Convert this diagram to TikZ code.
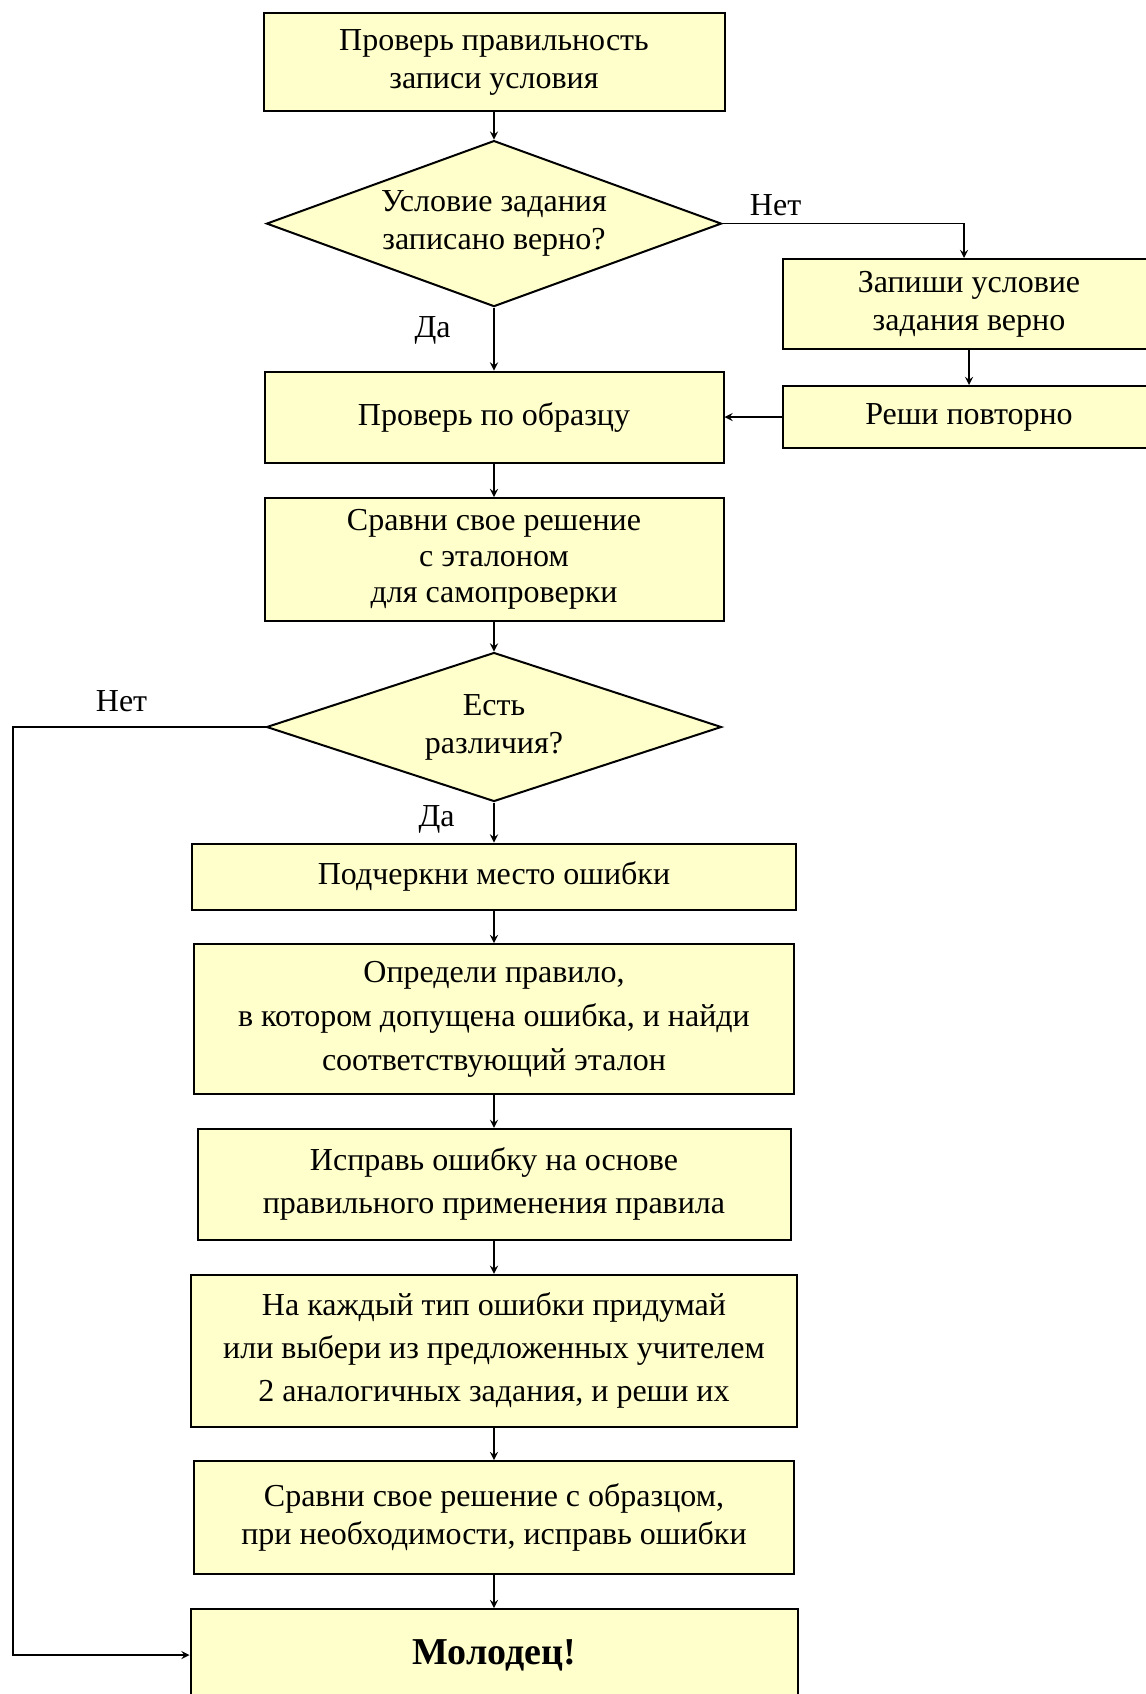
\documentclass[tikz,border=0pt]{standalone}
\usepackage{fontspec}
\setmainfont{Liberation Serif}
\usepackage{tikz}
\usetikzlibrary{shapes.geometric, arrows}
\definecolor{boxyellow}{HTML}{FFFFCC}
\tikzstyle{arrow} = [thick,->,>=stealth]
\tikzstyle{rec} = [rectangle, minimum width=230pt, minimum height=45pt, text centered, align=center, draw=black, line width=1pt, fill=boxyellow]
\tikzstyle{decision} = [diamond, aspect=2.74, inner sep=0pt, minimum width=227.5pt, minimum height=83pt, text centered, align=center, draw=black, line width=1pt, fill=boxyellow]

\begin{document}
\begin{tikzpicture}[node distance=80pt, font=\fontsize{16}{19}\selectfont]
		\useasboundingbox (0,0) rectangle (573pt,-847pt);
		\coordinate (loop) at (6.5pt,0);
		\node (check) [rec, minimum width=230.5pt, minimum height=49pt] at (247pt,-31pt) {Проверь правильность\\записи условия};
		\node (cond) [decision, node distance=80.8pt, below of=check] {Условие задания\\записано верно?};
		\node (sample) [rec, minimum width=229.5pt, minimum height=45.5pt, node distance=96.7pt, below of=cond] {Проверь по образцу};
		\node (again) [rec, minimum width=186pt, minimum height=31pt, node distance=237.5pt, right of=sample] {Реши повторно};
		\node (rewrite) [rec, minimum width=186pt, minimum height=45pt, node distance=56.5pt, above of=again] {Запиши условие\\задания верно};
		\node (compare) [rec, minimum width=229.5pt, minimum height=61.5pt, font=\fontsize{16}{18}\selectfont, node distance=71.25pt, below of=sample] {Сравни свое решение\\с эталоном\\для самопроверки};
		\node (diff) [decision, minimum height=74.5pt, node distance=83.75pt, below of=compare] {Есть\\различия?};
		\node (mark) [rec, minimum width=302pt, minimum height=33pt, node distance=74.75pt, below of=diff] {Подчеркни место ошибки};
		\node (rule) [rec, minimum width=300pt, minimum height=75pt, font=\fontsize{16}{22}\selectfont, node distance=71.25pt, below of=mark] {Определи правило,\\в котором допущена ошибка, и найди\\соответствующий эталон};
		\node (fix) [rec, minimum width=296.5pt, minimum height=55.5pt, font=\fontsize{16}{21.5}\selectfont, node distance=82.7pt, below of=rule] {Исправь ошибку на основе\\правильного применения правила};
		\node (tasks) [rec, minimum width=303pt, minimum height=76pt, font=\fontsize{16}{21.5}\selectfont, node distance=83.2pt, below of=fix] {На каждый тип ошибки придумай\\или выбери из предложенных учителем\\2 аналогичных задания, и реши их};
		\node (check2) [rec, minimum width=300pt, minimum height=56.5pt, node distance=83.35pt, below of=tasks] {Сравни свое решение с образцом,\\при необходимости, исправь ошибки};
		\node (well) [rec, minimum width=303.5pt, minimum height=46pt, font=\fontsize{19}{23}\selectfont\bfseries, node distance=68.75pt, below of=check2] {Молодец!};
		\draw [arrow] (check) -- (cond);
		\draw [arrow] (cond) -- node[pos=0.37, left=18pt] {Да} (sample);
		\draw [arrow] (cond.east) -| node[pos=0.11, above] {Нет} ([xshift=-2.5pt]rewrite.north);
		\draw [arrow] (rewrite) -- (again);
		\draw [arrow] (again) -- (sample);
		\draw [arrow] (sample) -- (compare);
		\draw [arrow] (compare) -- (diff);
		\draw [arrow] (diff) -- node[pos=0.42, left=16pt] {Да} (mark);
		\draw [arrow] (diff.west) -- node[pos=0.57, above, yshift=4pt] {Нет} (diff.west -| loop) |- (well.west);
		\draw [arrow] (mark) -- (rule);
		\draw [arrow] (rule) -- (fix);
		\draw [arrow] (fix) -- (tasks);
		\draw [arrow] (tasks) -- (check2);
		\draw [arrow] (check2) -- (well);
	\end{tikzpicture}
\end{document}
